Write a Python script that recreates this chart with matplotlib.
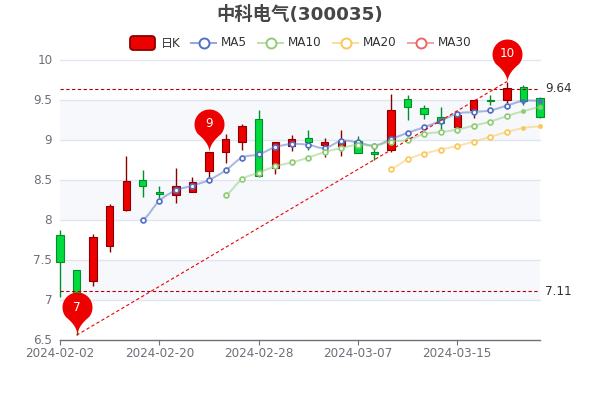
import numpy as np
import matplotlib
matplotlib.use('Agg')
import matplotlib.pyplot as plt
from matplotlib.path import Path
from matplotlib.patches import PathPatch, FancyBboxPatch
from matplotlib.lines import Line2D
from matplotlib.transforms import IdentityTransform, ScaledTranslation

plt.rcParams['font.family'] = ['DejaVu Sans', 'Noto Sans CJK SC']

dates = ['2024-02-02', '2024-02-05', '2024-02-06', '2024-02-07', '2024-02-08', '2024-02-19',
         '2024-02-20', '2024-02-21', '2024-02-22', '2024-02-23', '2024-02-26', '2024-02-27',
         '2024-02-28', '2024-02-29', '2024-03-01', '2024-03-04', '2024-03-05', '2024-03-06',
         '2024-03-07', '2024-03-08', '2024-03-11', '2024-03-12', '2024-03-13', '2024-03-14',
         '2024-03-15', '2024-03-18', '2024-03-19', '2024-03-20', '2024-03-21', '2024-03-22']
opens = [7.81, 7.37, 7.24, 7.68, 8.125, 8.50, 8.35, 8.31, 8.35, 8.61, 8.85, 8.97, 9.26, 8.65, 8.93,
         9.02, 8.94, 8.93, 8.99, 8.85, 8.87, 9.51, 9.40, 9.29, 9.16, 9.38, 9.505, 9.50, 9.66, 9.53]
closes = [7.47, 7.00, 7.79, 8.175, 8.49, 8.425, 8.33, 8.42, 8.48, 8.85, 9.01, 9.175, 8.55, 8.97, 9.01,
          8.98, 8.98, 8.99, 8.84, 8.82, 9.38, 9.41, 9.33, 9.21, 9.31, 9.50, 9.49, 9.65, 9.49, 9.29]
lows = [7.04, 6.56, 7.18, 7.60, 8.11, 8.29, 8.28, 8.21, 8.35, 8.54, 8.71, 8.875, 8.54, 8.575, 8.86,
        8.87, 8.79, 8.80, 8.84, 8.75, 8.85, 9.25, 9.26, 9.12, 9.16, 9.28, 9.44, 9.46, 9.44, 9.275]
highs = [7.87, 7.37, 7.82, 8.20, 8.80, 8.625, 8.425, 8.65, 8.54, 8.85, 9.08, 9.20, 9.375, 8.97, 9.06,
         9.13, 9.03, 9.13, 9.05, 8.92, 9.575, 9.56, 9.44, 9.41, 9.31, 9.50, 9.56, 9.73, 9.69, 9.54]

ma5 = [None] * 5 + [8.0, 8.24, 8.37, 8.43, 8.50, 8.62, 8.78, 8.82, 8.91, 8.95, 8.94, 8.90, 8.99, 8.97,
                    8.93, 9.01, 9.09, 9.16, 9.24, 9.33, 9.35, 9.37, 9.43, 9.49, 9.49]
ma10 = [None] * 10 + [8.31, 8.51, 8.59, 8.67, 8.72, 8.78, 8.85, 8.90, 8.94, 8.93, 8.98, 9.0, 9.075,
                      9.10, 9.13, 9.18, 9.23, 9.30, 9.36, 9.41]
ma20 = [None] * 20 + [8.64, 8.76, 8.83, 8.88, 8.925, 8.98, 9.04, 9.10, 9.15, 9.17]

pin_idx = [1, 9, 27]
pin_val = [6.56, 8.85, 9.73]
pin_text = ['7', '9', '10']
mark_lines = [9.64, 7.11]
yticks = [6.5, 7, 7.5, 8, 8.5, 9, 9.5, 10]
ylabels = ['6.5', '7', '7.5', '8', '8.5', '9', '9.5', '10']

RED, RED_DK = '#ec0000', '#8a0000'
GREEN, GREEN_DK = '#00da3c', '#008f28'
GRAY = '#6e7079'
GRID = '#e0e6f1'


def smooth_path(xs, ys):
    # bezier through the points, tangents from the neighbours
    verts = [(xs[0], ys[0])]
    codes = [Path.MOVETO]
    n = len(xs)
    for i in range(n - 1):
        d0 = (ys[i + 1] - ys[max(i - 1, 0)]) / 2 * 0.7
        d1 = (ys[min(i + 2, n - 1)] - ys[i]) / 2 * 0.7
        verts += [(xs[i] + 0.35, ys[i] + d0 * 0.5), (xs[i + 1] - 0.35, ys[i + 1] - d1 * 0.5), (xs[i + 1], ys[i + 1])]
        codes += [Path.CURVE4, Path.CURVE4, Path.CURVE4]
    return Path(verts, codes)


def pin_marker():
    # tip at the origin, round head on top, units are pixels
    r, cy = 15, 28
    a = np.radians(np.linspace(-40, 220, 60))
    head = np.c_[r * np.cos(a), cy + r * np.sin(a)]
    t = np.linspace(0, 1, 12)[:, None]
    ctrl = np.array([0.0, 9.0])
    left = (1 - t) ** 2 * head[-1] + 2 * t * (1 - t) * ctrl + t ** 2 * np.array([0.0, 0.0])
    right = (1 - t) ** 2 * np.array([0.0, 0.0]) + 2 * t * (1 - t) * ctrl + t ** 2 * head[0]
    return Path(np.vstack([head, left, right[1:]]))


fig = plt.figure(figsize=(6, 4), dpi=100)
ax = fig.add_axes([0.1, 0.15, 0.8, 0.7])
x = np.arange(len(dates))
ax.set_xlim(0, len(dates) - 1)
ax.set_ylim(6.5, 10)

# alternating bands
for lo in [7, 8, 9]:
    ax.axhspan(lo, lo + 0.5, color='#f6f8fc', lw=0, zorder=0)
for t in yticks[1:]:
    ax.axhline(t, color=GRID, lw=1, zorder=1, clip_on=False)

for spine in ['top', 'left', 'right']:
    ax.spines[spine].set_visible(False)
ax.spines['bottom'].set_color(GRAY)
ax.spines['bottom'].set_linewidth(1)
ax.set_xticks(x[::6], dates[::6])
ax.set_yticks(yticks, ylabels)
ax.tick_params(axis='x', length=3.6, width=0.8, color=GRAY, labelcolor=GRAY, labelsize=8.64, pad=1.6)
ax.tick_params(axis='y', length=0, labelcolor=GRAY, labelsize=8.64, pad=5.5)
for lab in ax.get_yticklabels():
    lab.set_transform(lab.get_transform() + ScaledTranslation(0, 1 / 100, fig.dpi_scale_trans))

# candles
for i in x:
    up = closes[i] >= opens[i]
    fc, ec = (RED, RED_DK) if up else (GREEN, GREEN_DK)
    ax.vlines(i, lows[i], highs[i], color=ec, lw=1, zorder=3, clip_on=False)
    ax.bar(i, closes[i] - opens[i], bottom=opens[i], width=0.44, color=fc, edgecolor=ec, lw=0.8,
           zorder=4, clip_on=False)

# moving averages, the last two points come out as small solid dots
for k, (vals, col) in enumerate([(ma5, '#5470c6'), (ma10, '#91cc75'), (ma20, '#fac858')]):
    idx = [i for i, v in enumerate(vals) if v is not None]
    ys = [vals[i] for i in idx]
    ax.add_patch(PathPatch(smooth_path(idx, ys), fill=False, ec=col, lw=1.44, alpha=0.5, zorder=5 + k * 2))
    ax.plot(idx[:-2], ys[:-2], ls='none', marker='o', ms=3.5, mfc='white', mec=col, mew=1.25, zorder=6 + k * 2,
            clip_on=False)
    ax.plot(idx[-2:], ys[-2:], ls='none', marker='o', ms=3.2, mfc=col, mec=col, mew=0.3, zorder=6 + k * 2,
            clip_on=False)

# mark lines
for v in mark_lines:
    ax.axhline(v, color='#b00000', lw=0.8, ls=(0, (3, 2.2)), zorder=12)
    ax.annotate(f'{v:.2f}', (1, v), xycoords=('axes fraction', 'data'), xytext=(3.6, 0),
                textcoords='offset points', va='center', ha='left', fontsize=8.64, color='#333333')
ax.plot([pin_idx[0], pin_idx[-1]], [pin_val[0], pin_val[-1]], color=RED, lw=0.8, ls=(0, (3, 2.2)), zorder=12)

# pins
marker = pin_marker()
for i, v, s in zip(pin_idx, pin_val, pin_text):
    ax.plot([i], [v], ls='none', marker=marker, ms=61.9, mfc=RED, mec=RED, mew=0, zorder=14, clip_on=False)
    ax.annotate(s, (i, v), xytext=(0, 20.2), textcoords='offset points', ha='center', va='center',
                fontsize=8.64, color='white', zorder=15)

# title and legend, placed in pixels
fig.text(0.5, 1 - 14.5 / 400, '中科电气(300035)', ha='center', va='center', fontsize=13.2, fontweight='bold',
         color='#464646')
leg_y = 400 - 43
fig.add_artist(FancyBboxPatch((130, leg_y - 7), 25, 14, boxstyle='round,pad=0,rounding_size=3.5',
                              fc=RED, ec=RED_DK, lw=1.3, transform=IdentityTransform()))
fig.text(161 / 600, leg_y / 400, '日K', ha='left', va='center', fontsize=8.64, color='#333333')
legend_items = [('MA5', '#5470c6', 191), ('MA10', '#91cc75', 258), ('MA20', '#fac858', 333), ('MA30', '#ee6666', 408)]
for name, col, px in legend_items:
    fig.add_artist(Line2D([px, px + 25], [leg_y, leg_y], color=col, lw=1.44, alpha=0.6, transform=IdentityTransform()))
    fig.add_artist(Line2D([px + 12.5], [leg_y], ls='none', marker='o', ms=7.2, mfc='white', mec=col, mew=1.4,
                          transform=IdentityTransform()))
    fig.text((px + 30) / 600, leg_y / 400, name, ha='left', va='center', fontsize=8.64, color='#333333')

fig.savefig('out.png', dpi=100)
